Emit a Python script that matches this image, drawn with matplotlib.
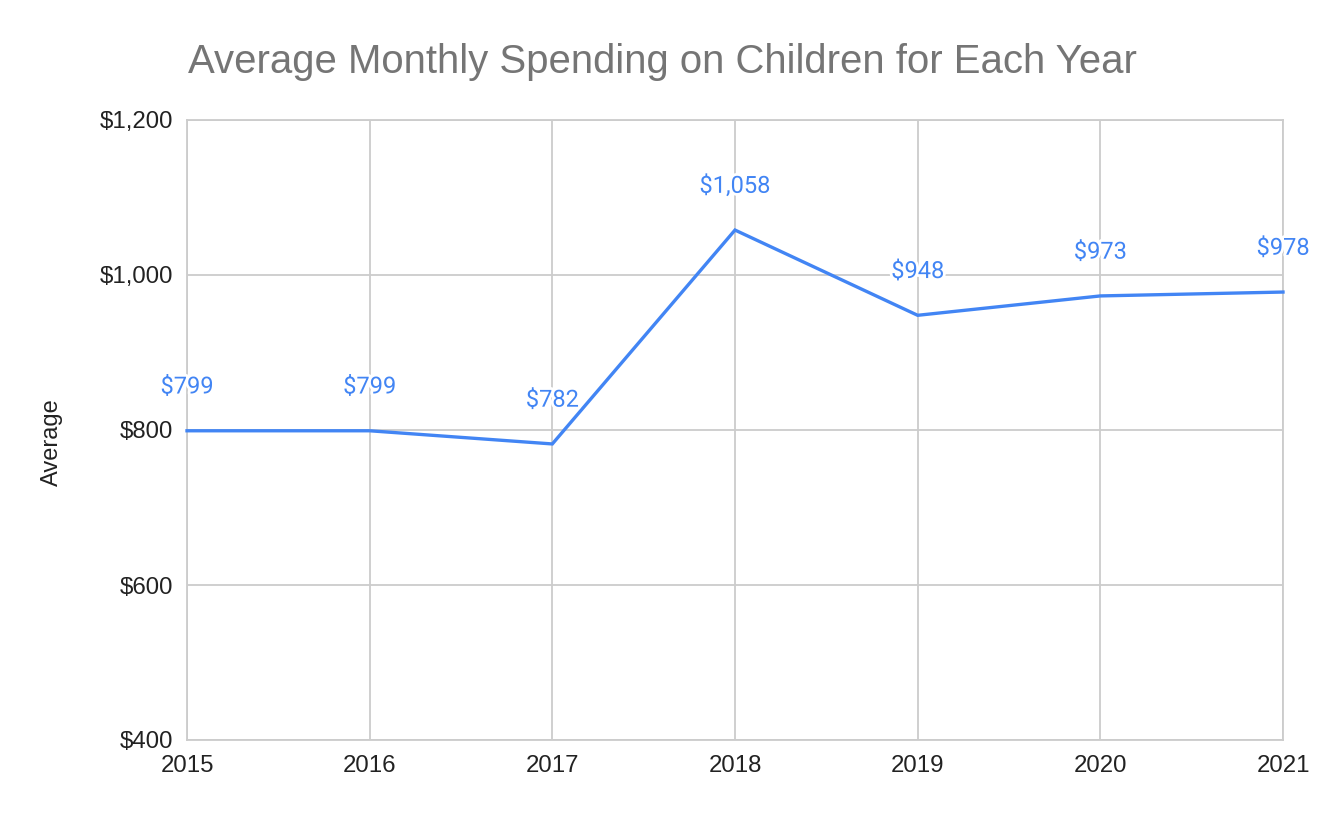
import matplotlib
matplotlib.use("Agg")
import matplotlib.pyplot as plt
import matplotlib.patheffects as pe
from matplotlib.ticker import FuncFormatter

years = [2015, 2016, 2017, 2018, 2019, 2020, 2021]
average = [799, 799, 782, 1058, 948, 973, 978]
yticks = [400, 600, 800, 1000, 1200]

W, H = 1324, 818
fig = plt.figure(figsize=(W / 100, H / 100), dpi=100)
ax = fig.add_axes([187 / W, 1 - 740 / H, (1283 - 187) / W, (740 - 120) / H])

grid_c = "#cccccc"
line_c = "#4285F4"

ax.set_xlim(years[0], years[-1])
ax.set_ylim(yticks[0], yticks[-1])
ax.set_xticks(years)
ax.set_yticks(yticks)
ax.yaxis.set_major_formatter(FuncFormatter(lambda v, p: f"${v:,.0f}"))
ax.grid(True, color=grid_c, linewidth=1.3, zorder=0)
for s in ax.spines.values():
    s.set_color(grid_c)
    s.set_linewidth(1.3)
ax.tick_params(length=0, labelsize=17.3, colors="#222222")
ax.tick_params(axis="y", pad=10)
ax.tick_params(axis="x", pad=11)
for lab in ax.get_xticklabels() + ax.get_yticklabels():
    lab.set_family("Liberation Sans")

ax.plot(years, average, color=line_c, linewidth=2.4, zorder=3, clip_on=False,
        solid_joinstyle="miter")

for x, y in zip(years, average):
    ax.annotate(f"${y:,.0f}", (x, y), xytext=(0, 31.5), textcoords="offset points",
                ha="center", va="center", fontsize=17, color=line_c,
                family="Roboto", zorder=4, annotation_clip=False,
                path_effects=[pe.withStroke(linewidth=4, foreground="white")])

fig.text(52 / W, 1 - 442 / H, "Average", rotation=90, ha="center", va="center",
         fontsize=17, color="#222222", family="Liberation Sans")
fig.text(188 / W, 1 - 62 / H, "Average Monthly Spending on Children for Each Year",
         ha="left", va="center", fontsize=28.9, color="#757575", family="Liberation Sans")

fig.savefig("out.png", dpi=100, facecolor="white")
